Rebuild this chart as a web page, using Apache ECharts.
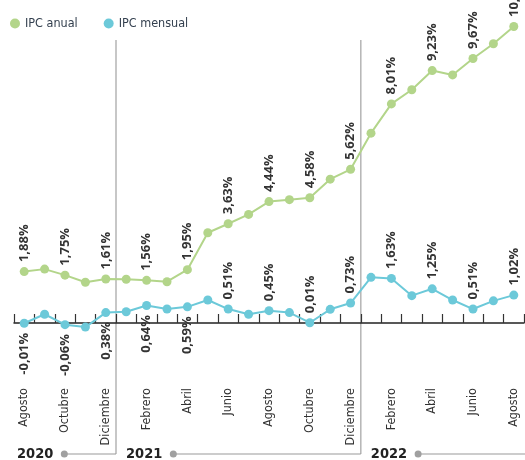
<!DOCTYPE html>
<html>
<head>
<meta charset="utf-8">
<script src="https://cdn.jsdelivr.net/npm/echarts@6/dist/echarts.min.js"></script>
<style>
html,body{margin:0;padding:0;background:#fff;}
#c{width:525px;height:460px;}
</style>
</head>
<body>
<div id="c"></div>
<script>
const categories = ['Agosto','Septiembre','Octubre','Noviembre','Diciembre',
  'Enero','Febrero','Marzo','Abril','Mayo','Junio','Julio','Agosto','Septiembre','Octubre','Noviembre','Diciembre',
  'Enero','Febrero','Marzo','Abril','Mayo','Junio','Julio','Agosto'];
const ipcAnual = [1.88,1.97,1.75,1.49,1.61,1.60,1.56,1.51,1.95,3.30,3.63,3.97,4.44,4.51,4.58,5.26,5.62,6.94,8.01,8.53,9.23,9.07,9.67,10.21,10.84];
const ipcMensual = [-0.01,0.32,-0.06,-0.15,0.38,0.41,0.64,0.51,0.59,0.84,0.51,0.32,0.45,0.38,0.01,0.50,0.73,1.67,1.63,1.00,1.25,0.84,0.51,0.81,1.02];
const years = ['2020','2021','2022'];
const yearStartIndex = [0,5,17];
const mensualBelowUntil = 9; // labels of earlier points are drawn under the axis

const GREEN = '#b3d58a';
const BLUE = '#6cc9d9';

const ctx = document.createElement('canvas').getContext('2d');
function hasFont(name){
  const t = 'Diciembre 2020 IPC mensual';
  ctx.font = '16px monospace'; const a = ctx.measureText(t).width;
  ctx.font = '16px "' + name + '", monospace'; const b = ctx.measureText(t).width;
  return Math.abs(a - b) > 0.5;
}
const haveNarrow = hasFont('Liberation Sans Narrow');
const NARROW = haveNarrow ? '"Liberation Sans Narrow"' : '"DejaVu Sans Condensed"';
const NSIZE = haveNarrow ? 13 : 11.5;
const LABELFONT = '"Open Sans","Liberation Sans",sans-serif';

const fmt = v => v.toFixed(2).replace('.', ',') + '%';

const labelTop = {show:true, position:'top', distance:5, rotate:90, align:'left', verticalAlign:'middle',
  fontFamily:LABELFONT, fontWeight:700, fontSize:13, color:'#333',
  formatter: p => p.dataIndex % 2 === 0 ? fmt(p.value) : ''};
const labelBottom = Object.assign({}, labelTop, {position:'bottom', align:'right'});

const mensualData = ipcMensual.map((v,i) => ({value:v, label: i < mensualBelowUntil ? labelBottom : labelTop}));

const chart = echarts.init(document.getElementById('c'));
const S = 27.35, AXIS_Y = 323;
chart.setOption({
  animation:false,
  legend:{left:5, top:12, icon:'circle', itemWidth:10, itemHeight:10, itemGap:26,
    textStyle:{fontFamily:NARROW, fontSize:NSIZE + 1, color:'#34404f'},
    data:['IPC anual','IPC mensual']},
  grid:{left:14, right:1, top:AXIS_Y - 11*S, height:11*S, containLabel:false, outerBoundsMode:'none'},
  xAxis:{type:'category', data:categories, boundaryGap:true,
    axisLine:{onZero:false, lineStyle:{color:'#222', width:1.5}},
    axisTick:{show:true, inside:true, length:9, interval:0, lineStyle:{color:'#333', width:1.2}},
    axisLabel:{interval:1, rotate:90, margin:65, fontFamily:NARROW, fontSize:NSIZE + 1, color:'#333'},
    splitLine:{show:false}},
  yAxis:{type:'value', min:0, max:11, show:false},
  series:[
    {name:'IPC anual', type:'line', data:ipcAnual, symbol:'circle', symbolSize:9, showAllSymbol:true, clip:false,
      itemStyle:{color:GREEN}, lineStyle:{color:GREEN, width:2}, label:labelTop, z:3},
    {name:'IPC mensual', type:'line', data:mensualData, symbol:'circle', symbolSize:9, showAllSymbol:true, clip:false,
      itemStyle:{color:BLUE}, lineStyle:{color:BLUE, width:2}, z:4}
  ]
});

const px = i => chart.convertToPixel({xAxisIndex:0}, i);
const boundary = i => (px(i-1) + px(i)) / 2;
const YFONT = 'bold ' + (NSIZE + 3) + 'px ' + NARROW;
ctx.font = YFONT;
const W = 525, lineY = 454, sepTop = 40;
const graphics = [];
years.forEach((y, k) => {
  const start = yearStartIndex[k];
  const x0 = k === 0 ? 14 + 3 : boundary(start) + 10;
  const tw = ctx.measureText(y).width;
  const dotX = x0 + tw + 11;
  const endX = k < years.length - 1 ? boundary(yearStartIndex[k+1]) : W;
  graphics.push({type:'text', x:x0, y:lineY, style:{text:y, font:YFONT, fill:'#222', textVerticalAlign:'middle'}});
  graphics.push({type:'line', shape:{x1:dotX, y1:lineY, x2:endX, y2:lineY}, style:{stroke:'#999', lineWidth:1.2}});
  graphics.push({type:'circle', shape:{cx:dotX, cy:lineY, r:3.5}, style:{fill:'#a0a0a0'}});
  if (k < years.length - 1) {
    graphics.push({type:'line', shape:{x1:endX, y1:sepTop, x2:endX, y2:lineY}, style:{stroke:'#b5b5b5', lineWidth:1.5}, z:-1});
  }
});
chart.setOption({graphic:graphics});
</script>
</body>
</html>
